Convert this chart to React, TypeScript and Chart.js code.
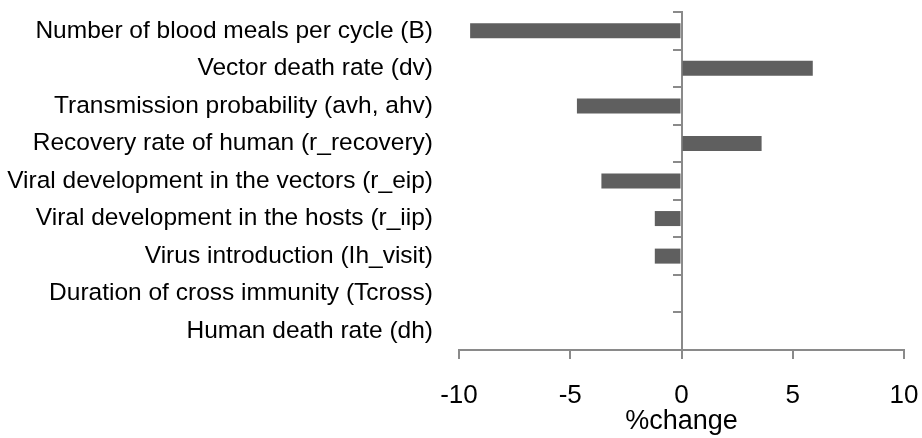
import React, { useEffect, useRef } from "react";
import { Chart, registerables } from "chart.js";

Chart.register(...registerables);

const categories: string[] = [
  "Number of blood meals per cycle (B)",
  "Vector death rate (dv)",
  "Transmission probability (avh, ahv)",
  "Recovery rate of human (r_recovery)",
  "Viral development in the vectors (r_eip)",
  "Viral development in the hosts (r_iip)",
  "Virus introduction (Ih_visit)",
  "Duration of cross immunity (Tcross)",
  "Human death rate (dh)",
];

const percentChange: number[] = [-9.5, 5.9, -4.7, 3.6, -3.6, -1.2, -1.2, 0, 0];

const xMin = -10;
const xMax = 10;
const xStep = 5;
const xTitle = "%change";

const AXIS_COLOR = "#8a8a8a";
const BAR_COLOR = "#5f5f5f";
const FONT = "'Liberation Sans', Arial, sans-serif";

export default function App() {
  const canvasRef = useRef<HTMLCanvasElement | null>(null);

  useEffect(() => {
    if (!canvasRef.current) return;
    const chart = new Chart(canvasRef.current, {
      type: "bar",
      data: {
        labels: categories,
        datasets: [
          {
            data: percentChange,
            backgroundColor: BAR_COLOR,
            borderWidth: 0,
            barPercentage: 0.4,
            categoryPercentage: 1,
            yAxisID: "y",
          },
        ],
      },
      options: {
        indexAxis: "y",
        animation: false,
        responsive: false,
        maintainAspectRatio: false,
        layout: { padding: { top: 12, right: 18, bottom: 0, left: 0 } },
        plugins: {
          legend: { display: false },
          tooltip: { enabled: false },
        },
        scales: {
          x: {
            type: "linear",
            position: "bottom",
            min: xMin,
            max: xMax,
            ticks: {
              stepSize: xStep,
              color: "#000",
              padding: 21,
              font: { family: FONT, size: 26 },
            },
            grid: {
              drawOnChartArea: false,
              drawTicks: true,
              tickLength: 9,
              color: AXIS_COLOR,
              lineWidth: 2,
            },
            border: { display: true, color: AXIS_COLOR, width: 2 },
            title: {
              display: true,
              text: xTitle,
              color: "#000",
              font: { family: FONT, size: 27 },
              padding: { top: 0, bottom: 0 },
            },
            afterFit: (scale: any) => {
              scale.height = 88;
              scale.paddingLeft = 0;
              scale.paddingRight = 0;
            },
          },
          y: {
            type: "category",
            position: "left",
            offset: true,
            grid: { display: false, drawTicks: false, offset: true },
            border: { display: false },
            ticks: {
              color: "#000",
              padding: 26,
              autoSkip: false,
              font: { family: FONT, size: 24.5 },
            },
            afterFit: (scale: any) => {
              scale.width = 459;
              scale.paddingTop = 0;
              scale.paddingBottom = 0;
            },
          },
          y2: {
            type: "category",
            axis: "y",
            position: { x: 0 },
            offset: true,
            grid: {
              offset: true,
              drawOnChartArea: false,
              drawTicks: true,
              tickLength: 8,
              color: AXIS_COLOR,
              lineWidth: 2,
            },
            border: { display: true, color: AXIS_COLOR, width: 2 },
            ticks: { display: false },
            afterFit: (scale: any) => {
              scale.paddingTop = 0;
              scale.paddingBottom = 0;
              scale.paddingLeft = 0;
              scale.paddingRight = 0;
            },
          },
        },
      } as any,
    });
    return () => chart.destroy();
  }, []);

  return (
    <div style={{ position: "absolute", left: 0, top: 0, width: 922, height: 438, background: "#fff" }}>
      <canvas ref={canvasRef} width={922} height={438} style={{ display: "block" }} />
    </div>
  );
}
